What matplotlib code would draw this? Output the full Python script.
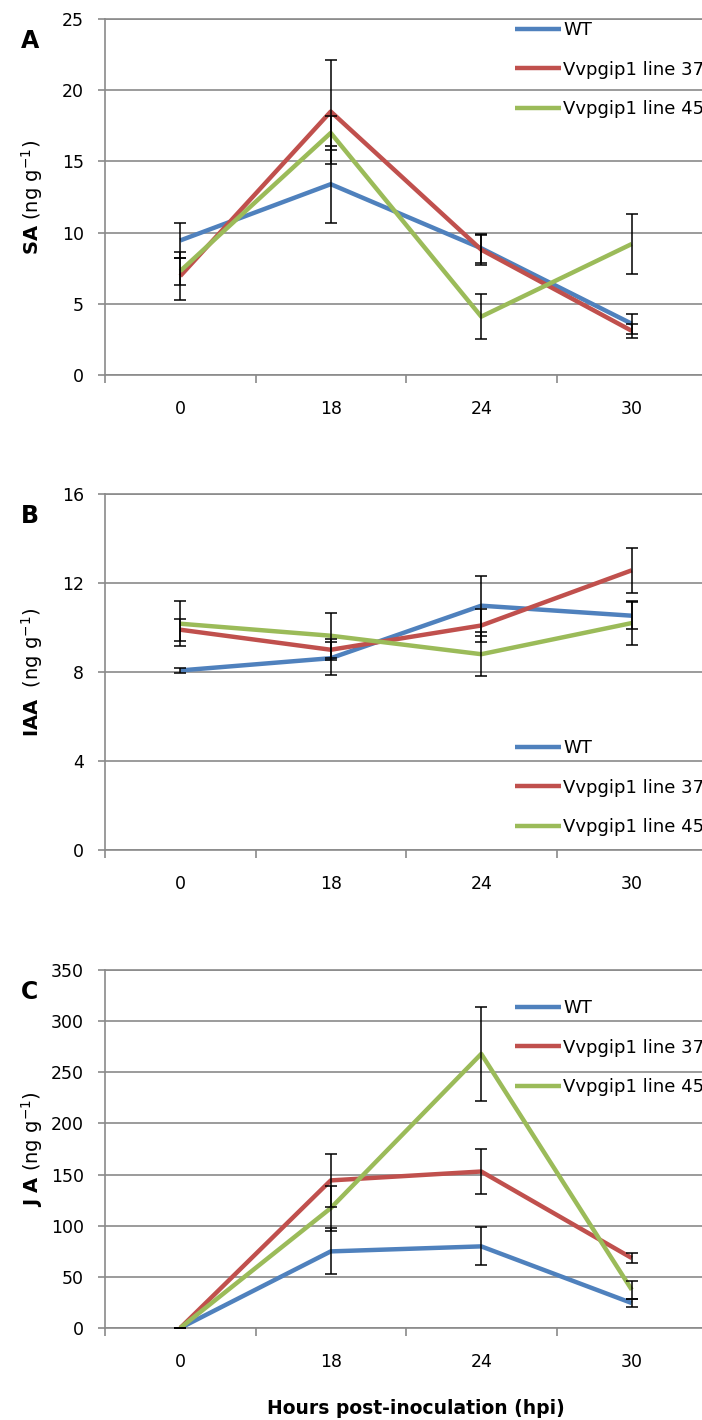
import numpy as np
import matplotlib
matplotlib.use("Agg")
import matplotlib.pyplot as plt

# ---- data ----
hours = ["0", "18", "24", "30"]
series_names = ["WT", "Vvpgip1 line 37", "Vvpgip1 line 45"]
colors = ["#4F81BD", "#C0504D", "#9BBB59"]

# panel A: SA
sa_wt = [9.45, 13.4, 8.9, 3.6]
sa_l37 = [6.95, 18.5, 8.8, 3.1]
sa_l45 = [7.3, 17.0, 4.1, 9.2]
sa_wt_err = [1.2, 2.7, 1.0, 0.7]
sa_l37_err = [1.7, 3.65, 1.05, 0.5]
sa_l45_err = [0.95, 1.2, 1.6, 2.1]

# panel B: IAA
iaa_wt = [8.07, 8.62, 10.98, 10.53]
iaa_l37 = [9.9, 9.0, 10.09, 12.57]
iaa_l45 = [10.17, 9.63, 8.8, 10.2]
iaa_wt_err = [0.13, 0.74, 1.35, 0.6]
iaa_l37_err = [0.5, 0.47, 0.75, 1.0]
iaa_l45_err = [1.0, 1.0, 1.0, 1.0]

# panel C: JA
ja_wt = [0, 74.9, 79.8, 24.4]
ja_l37 = [0, 144.3, 153.0, 68.4]
ja_l45 = [0, 117.2, 268.0, 37.4]
ja_wt_err = [0, 22.5, 18.5, 3.5]
ja_l37_err = [0, 26.0, 22.0, 5.0]
ja_l45_err = [0, 22.0, 46.0, 8.8]

W, H = 702, 1420
plt.rcParams['font.family'] = ['DejaVu Sans']
fig = plt.figure(figsize=(W / 100, H / 100), dpi=100)

grid_col = "#8a8a8a"
x = np.arange(len(hours))


def px(xp, yp):
  return xp / W, 1 - yp / H


def make_panel(top_px, bot_px, ymax, ystep, vals, errs, letter, ylab, leg_top):
  l, b = px(105, bot_px)
  ax = fig.add_axes([l, b, 602 / W, (bot_px - top_px) / H])
  for v, e, c, n in zip(vals, errs, colors, series_names):
    ax.plot(x, v, color=c, lw=3.2, label=n, solid_capstyle="butt", zorder=3)
  for v, e in zip(vals, errs):
    ax.errorbar(x, v, yerr=e, fmt="none", ecolor="black", elinewidth=1.1,
                capsize=4, capthick=1.1, zorder=4)
  ax.set_xlim(-0.5, 3.5)
  ax.set_ylim(0, ymax)
  ax.set_yticks(np.arange(0, ymax + ystep / 2, ystep))
  ax.yaxis.grid(True, color=grid_col, lw=1.2)
  ax.set_axisbelow(True)
  for s in ["top", "right"]:
    ax.spines[s].set_visible(False)
  for s in ["left", "bottom"]:
    ax.spines[s].set_color(grid_col)
    ax.spines[s].set_linewidth(1.2)
  ax.axhline(ymax, color=grid_col, lw=1.2, clip_on=False, zorder=1)
  ax.set_xticks(x)
  ax.set_xticklabels(hours)
  ax.set_xticks([-0.5, 0.5, 1.5, 2.5, 3.5], minor=True)
  ax.tick_params(axis="x", which="major", length=0, pad=18, labelsize=12.5)
  ax.tick_params(axis="x", which="minor", length=6, color=grid_col, width=1.2)
  ax.tick_params(axis="y", length=5, color=grid_col, width=1.2, pad=10, labelsize=12.5)
  fx, fy = px(30, top_px + 22)
  fig.text(fx, fy, letter, fontsize=17, fontweight="bold",
           ha="center", va="center")
  lx, ly = px(32, (top_px + bot_px) / 2)
  fig.text(lx, ly, ylab, fontsize=14, rotation=90,
           ha="center", va="center")
  ax.legend(loc="upper left", bbox_to_anchor=px(515, leg_top),
            bbox_transform=fig.transFigure, frameon=False, fontsize=13,
            handlelength=2.55, handletextpad=0.12, labelspacing=1.2,
            borderpad=0, borderaxespad=0)
  return ax


make_panel(19, 375, 25, 5, [sa_wt, sa_l37, sa_l45],
           [sa_wt_err, sa_l37_err, sa_l45_err], "A",
           r"$\mathbf{SA}$ (ng g$^{-1}$)", 21)
make_panel(494, 850, 16, 4, [iaa_wt, iaa_l37, iaa_l45],
           [iaa_wt_err, iaa_l37_err, iaa_l45_err], "B",
           r"$\mathbf{IAA}$  (ng g$^{-1}$)", 739)
make_panel(970, 1328, 350, 50, [ja_wt, ja_l37, ja_l45],
           [ja_wt_err, ja_l37_err, ja_l45_err], "C",
           r"$\mathbf{J\ A}$ (ng g$^{-1}$)", 999)

tx, ty = px(416, 1408)
fig.text(tx, ty, "Hours post-inoculation (hpi)", fontsize=13.5, fontweight="bold",
         ha="center", va="center")

fig.savefig("out.png", dpi=100)
